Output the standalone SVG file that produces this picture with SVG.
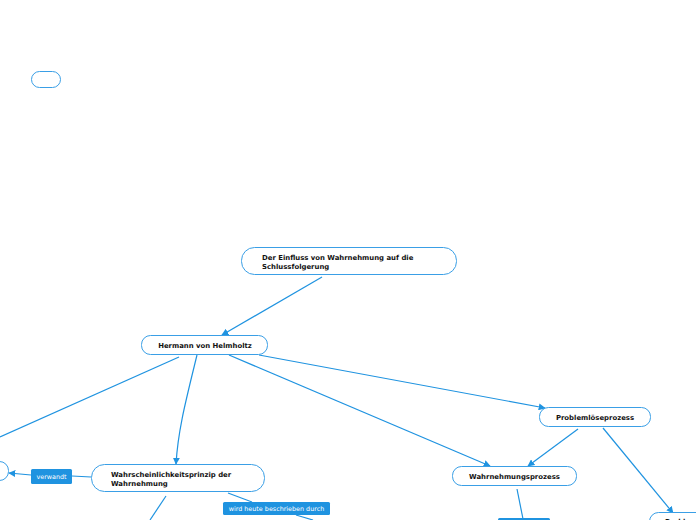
<svg xmlns="http://www.w3.org/2000/svg" width="696" height="520" viewBox="0 0 696 520">
<defs>
<marker id="ah" viewBox="0 0 10 10" refX="9" refY="5" markerWidth="7" markerHeight="7" markerUnits="userSpaceOnUse" orient="auto">
<path d="M0,0 L10,5 L0,10 z" fill="#1f93e0"/>
</marker>
<style>
.node{fill:#ffffff;stroke:#3a9fe6;stroke-width:1}
.lab{fill:#1f93e0}
.t{font-family:"DejaVu Sans",Verdana,sans-serif;font-size:6.9px;font-weight:bold;fill:#111}
.lt{font-family:"DejaVu Sans",Verdana,sans-serif;font-size:6.4px;fill:#ffffff}
.c{fill:none;stroke:#1f93e0;stroke-width:1.2}
</style>
</defs>
<rect width="696" height="520" fill="#ffffff"/>
<g id="connectors">
<line class="c" x1="322" y1="277" x2="222" y2="335" marker-end="url(#ah)"/>
<line class="c" x1="179" y1="357" x2="0" y2="437"/>
<path class="c" d="M197,355 C186,400 178,430 176,464" marker-end="url(#ah)"/>
<line class="c" x1="229" y1="355" x2="490" y2="466" marker-end="url(#ah)"/>
<line class="c" x1="259" y1="355" x2="545" y2="408" marker-end="url(#ah)"/>
<line class="c" x1="578" y1="429" x2="528" y2="466" marker-end="url(#ah)"/>
<line class="c" x1="603" y1="428" x2="673" y2="513" marker-end="url(#ah)"/>
<line class="c" x1="517" y1="489" x2="523" y2="519"/>
<line class="c" x1="91" y1="477" x2="72" y2="476"/>
<line class="c" x1="31" y1="475" x2="9" y2="473" marker-end="url(#ah)"/>
<line class="c" x1="166" y1="496" x2="150" y2="520"/>
<line class="c" x1="228" y1="493" x2="252" y2="502"/>
<line class="c" x1="296" y1="515" x2="313" y2="520"/>
</g>
<g id="n-empty"><rect class="node" x="31.5" y="71.5" width="29" height="16" rx="8"/></g>
<g id="n-main"><rect class="node" x="241.5" y="247.5" width="215" height="27" rx="13"/>
<text class="t" x="262" y="260">Der Einfluss von Wahrnehmung auf die</text>
<text class="t" x="262" y="269">Schlussfolgerung</text></g>
<g id="n-helmholtz"><rect class="node" x="141.5" y="335.5" width="126" height="19" rx="9"/>
<text class="t" x="205" y="347.5" text-anchor="middle">Hermann von Helmholtz</text></g>
<g id="n-wahrsch"><rect class="node" x="91.5" y="464.5" width="173" height="27" rx="13"/>
<text class="t" x="111" y="477">Wahrscheinlichkeitsprinzip der</text>
<text class="t" x="111" y="486">Wahrnehmung</text></g>
<g id="n-left"><rect class="node" x="-20.5" y="461.5" width="29" height="19" rx="9"/></g>
<g id="l-verwandt"><rect class="lab" x="31" y="469" width="41" height="15" rx="1.5"/>
<text class="lt" x="51.5" y="479" text-anchor="middle">verwandt</text></g>
<g id="l-wird"><rect class="lab" x="223" y="502" width="107" height="13" rx="1.5"/>
<text class="lt" x="276.5" y="511" text-anchor="middle">wird heute beschrieben durch</text></g>
<g id="n-problem"><rect class="node" x="539.5" y="407.5" width="111" height="19" rx="9"/>
<text class="t" x="595" y="419.5" text-anchor="middle">Problemlöseprozess</text></g>
<g id="n-wahrnehm"><rect class="node" x="452.5" y="466.5" width="124" height="19" rx="9"/>
<text class="t" x="514.5" y="478.5" text-anchor="middle">Wahrnehmungsprozess</text></g>
<g id="l-bottom"><rect class="lab" x="498" y="518" width="52" height="14" rx="1.5"/></g>
<g id="n-bottomright"><rect class="node" x="649.5" y="512.5" width="80" height="19" rx="9"/>
<text class="t" x="665" y="524">Probl</text></g>
</svg>
